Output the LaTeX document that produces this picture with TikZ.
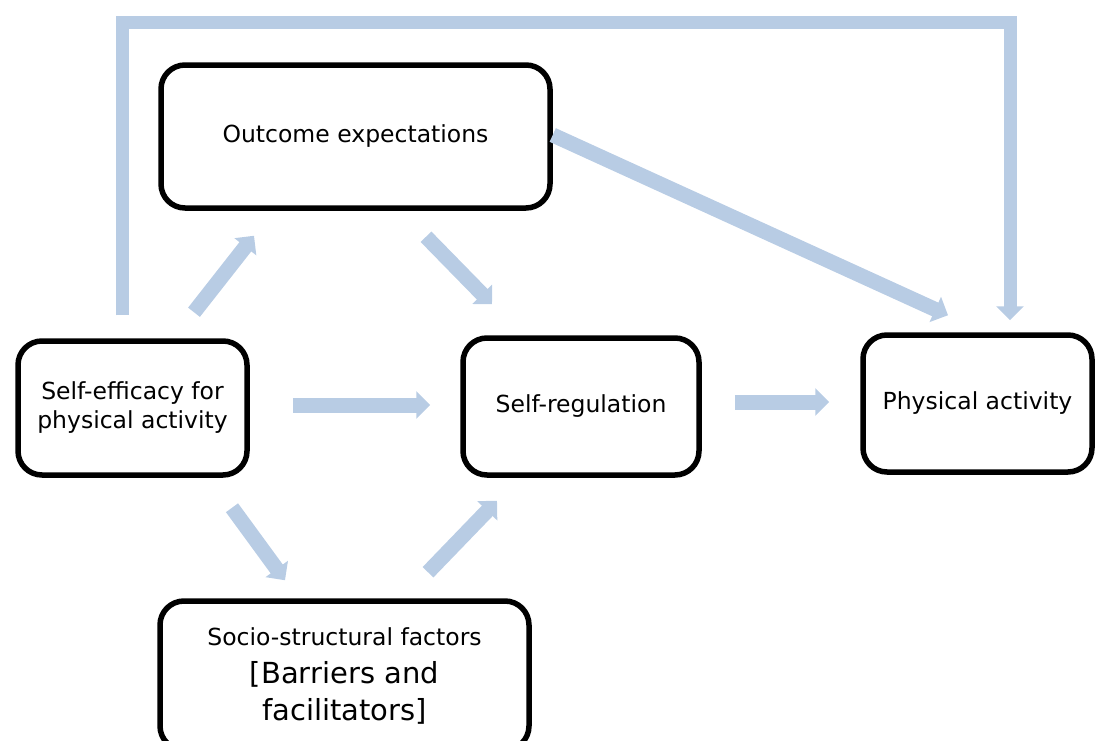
\documentclass[tikz,border=0pt]{standalone}
\usepackage{fontspec}
\setmainfont{DejaVu Sans}
\usetikzlibrary{arrows.meta,calc}
\definecolor{arrowblue}{HTML}{B8CCE4}

\begin{document}
\begin{tikzpicture}[x=1pt,y=-1pt,
  box_node/.style={draw,line width=5.5pt,rounded corners=24pt,align=center,inner sep=0pt,
    font=\fontsize{23.5}{29}\selectfont},
  block_arrow/.style={draw=arrowblue,line width=15pt,line join=miter,
    -{Triangle[width=27pt,length=14pt]}}]
\useasboundingbox (0,0) rectangle (1096,740);
\clip (0,0) rectangle (1096,740);

	\node[box_node, minimum width=389pt, minimum height=143pt] (out) at (355.5,136.5) {Outcome expectations};
	\node[box_node, minimum width=229pt, minimum height=134pt] (eff) at (132.5,408) {Self-efficacy for\\physical activity};
	\node[box_node, minimum width=236pt, minimum height=137pt] (reg) at (581,406.5) {Self-regulation};
	\node[box_node, minimum width=229pt, minimum height=137pt] (phys) at (977.5,403.5) {Physical activity};
	\node[box_node, minimum width=369pt, minimum height=149pt] (soc) at (344.5,675.5)
	  {Socio-structural factors\\[9pt] \fontsize{29}{37}\selectfont [Barriers and\\[8pt] \fontsize{29}{37}\selectfont facilitators]};

	\coordinate (top) at (0,22);
	\coordinate (f1) at ($(eff.north)+(-10.5,-23)$);
	\coordinate (f2) at ($(phys.north)+(32.5,-12)$);

\draw[block_arrow, line width=13pt] (f1) -- (f1 |- top) -- (f2 |- top) -- (f2);
\draw[block_arrow] ($(out.east)+(0,-1.5)$) -- ($(phys.north)+(-29.5,-17)$);
\draw[block_arrow] ($(eff.north)+(61.5,-26)$) -- ($(out.south)+(-101.5,25)$);
\draw[block_arrow] ($(out.south)+(70.5,26)$) -- ($(reg.north)+(-89,-31)$);
\draw[block_arrow] ($(eff.east)+(43,-3)$) -- ($(reg.west)+(-30,-1.5)$);
\draw[block_arrow] ($(reg.east)+(33,-4.5)$) -- ($(phys.west)+(-31,-1.5)$);
\draw[block_arrow] ($(eff.south)+(99.5,30)$) -- ($(soc.north)+(-59.5,-18)$);
\draw[block_arrow] ($(soc.north)+(83.5,-26)$) -- ($(reg.south)+(-84,23)$);

\end{tikzpicture}
\end{document}
